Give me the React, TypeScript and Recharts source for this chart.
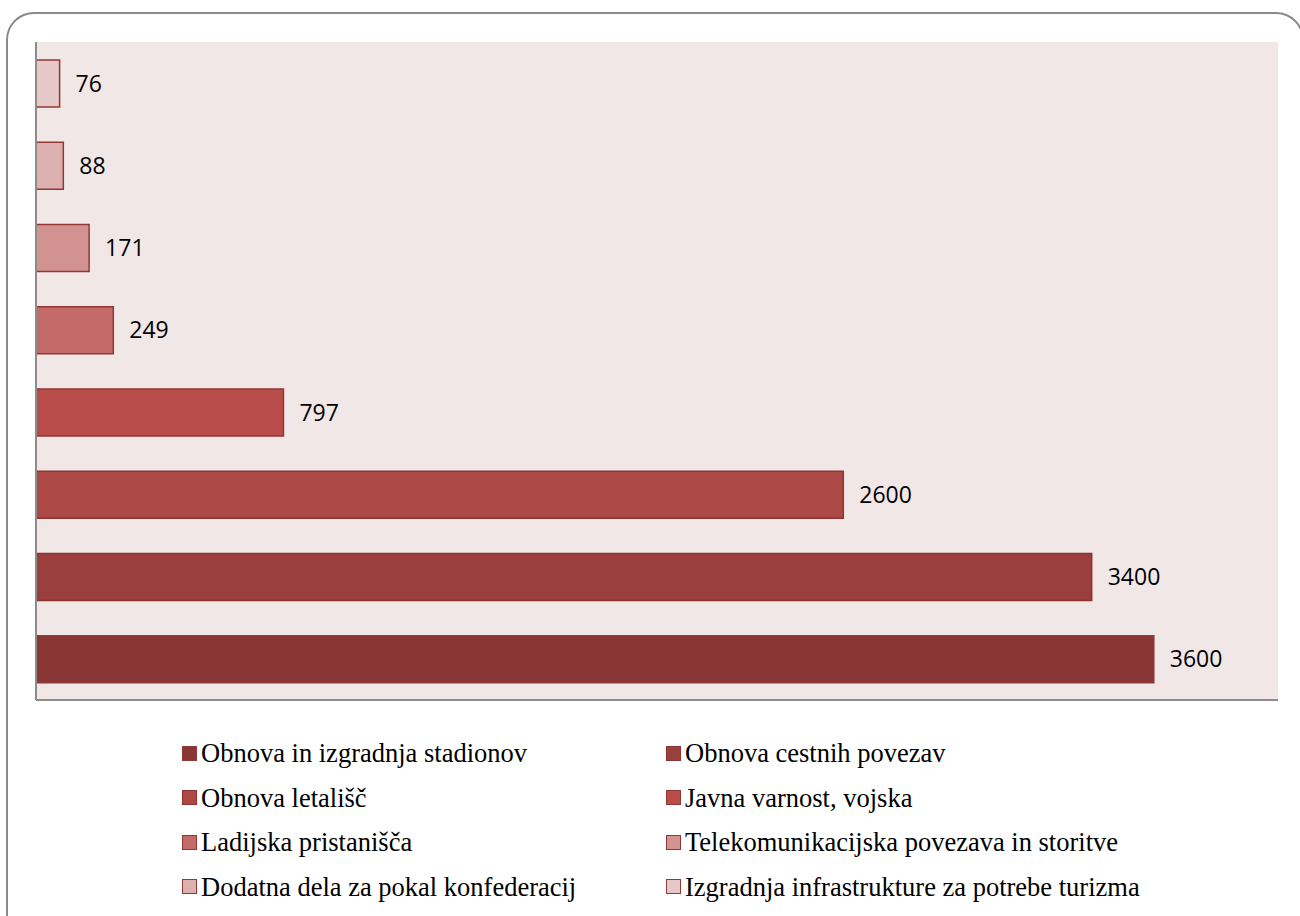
import React from 'react';
import { BarChart, Bar, XAxis, YAxis, CartesianGrid, Cell, LabelList } from 'recharts';

const categories = [
  'Obnova in izgradnja stadionov',
  'Obnova cestnih povezav',
  'Obnova letališč',
  'Javna varnost, vojska',
  'Ladijska pristanišča',
  'Telekomunikacijska povezava in storitve',
  'Dodatna dela za pokal konfederacij',
  'Izgradnja infrastrukture za potrebe turizma',
];
const values = [3600, 3400, 2600, 797, 249, 171, 88, 76];
const colors = ['#893634', '#9B3F3D', '#AC4846', '#B94D4A', '#C46A68', '#D29391', '#DDB0B0', '#E6C8C9'];
const strokes = ['#8E3A38', '#8C3331', '#8E3432', '#943634', '#943634', '#943634', '#943634', '#943634'];

const data = categories.map((name, i) => ({ name, value: values[i] }));

export default function App() {
  return (
    <div style={{ position: 'absolute', left: 0, top: 0, width: 1300, height: 916, overflow: 'hidden', background: '#fff' }}>
      <div
        style={{
          position: 'absolute',
          left: 6,
          top: 12,
          width: 1298,
          height: 940,
          border: '2px solid #8A8A8A',
          borderRadius: 28,
          boxSizing: 'border-box',
        }}
      />
      <div style={{ position: 'absolute', left: 0, top: 0 }}>
        <BarChart
          width={1300}
          height={916}
          layout="vertical"
          data={data}
          margin={{ top: 42, left: 35, right: 22, bottom: 215 }}
          barSize={47}
        >
          <CartesianGrid fill="#F2E7E7" stroke="none" horizontal={false} vertical={false} />
          <XAxis
            type="number"
            domain={[0, 4000]}
            height={1}
            tick={false}
            tickLine={false}
            axisLine={{ stroke: '#8C8C8C', strokeWidth: 2 }}
          />
          <YAxis
            type="category"
            dataKey="name"
            reversed
            width={1}
            tick={false}
            tickLine={false}
            axisLine={{ stroke: '#8C8C8C', strokeWidth: 2 }}
          />
          <Bar dataKey="value" isAnimationActive={false} strokeWidth={1.5}>
            {data.map((d, i) => (
              <Cell key={d.name} fill={colors[i]} stroke={strokes[i]} />
            ))}
            <LabelList
              dataKey="value"
              position="right"
              offset={16}
              fill="#000"
              style={{ fontFamily: '"Open Sans", sans-serif', fontSize: 23 }}
            />
          </Bar>
        </BarChart>
      </div>
      <div
        style={{
          position: 'absolute',
          left: 182,
          top: 731,
          display: 'grid',
          gridTemplateColumns: '484px 500px',
          fontFamily: '"Liberation Serif", "Times New Roman", serif',
          fontSize: 26.5,
          lineHeight: '30px',
          color: '#000',
        }}
      >
        {categories.map((c, i) => (
          <div key={c} style={{ display: 'flex', alignItems: 'center', height: 44.5, whiteSpace: 'nowrap' }}>
            <span
              style={{
                display: 'inline-block',
                width: 15,
                height: 15,
                background: colors[i],
                border: `1px solid ${strokes[i]}`,
                boxSizing: 'border-box',
                marginRight: 4,
                flex: 'none',
              }}
            />
            <span>{c}</span>
          </div>
        ))}
      </div>
    </div>
  );
}
